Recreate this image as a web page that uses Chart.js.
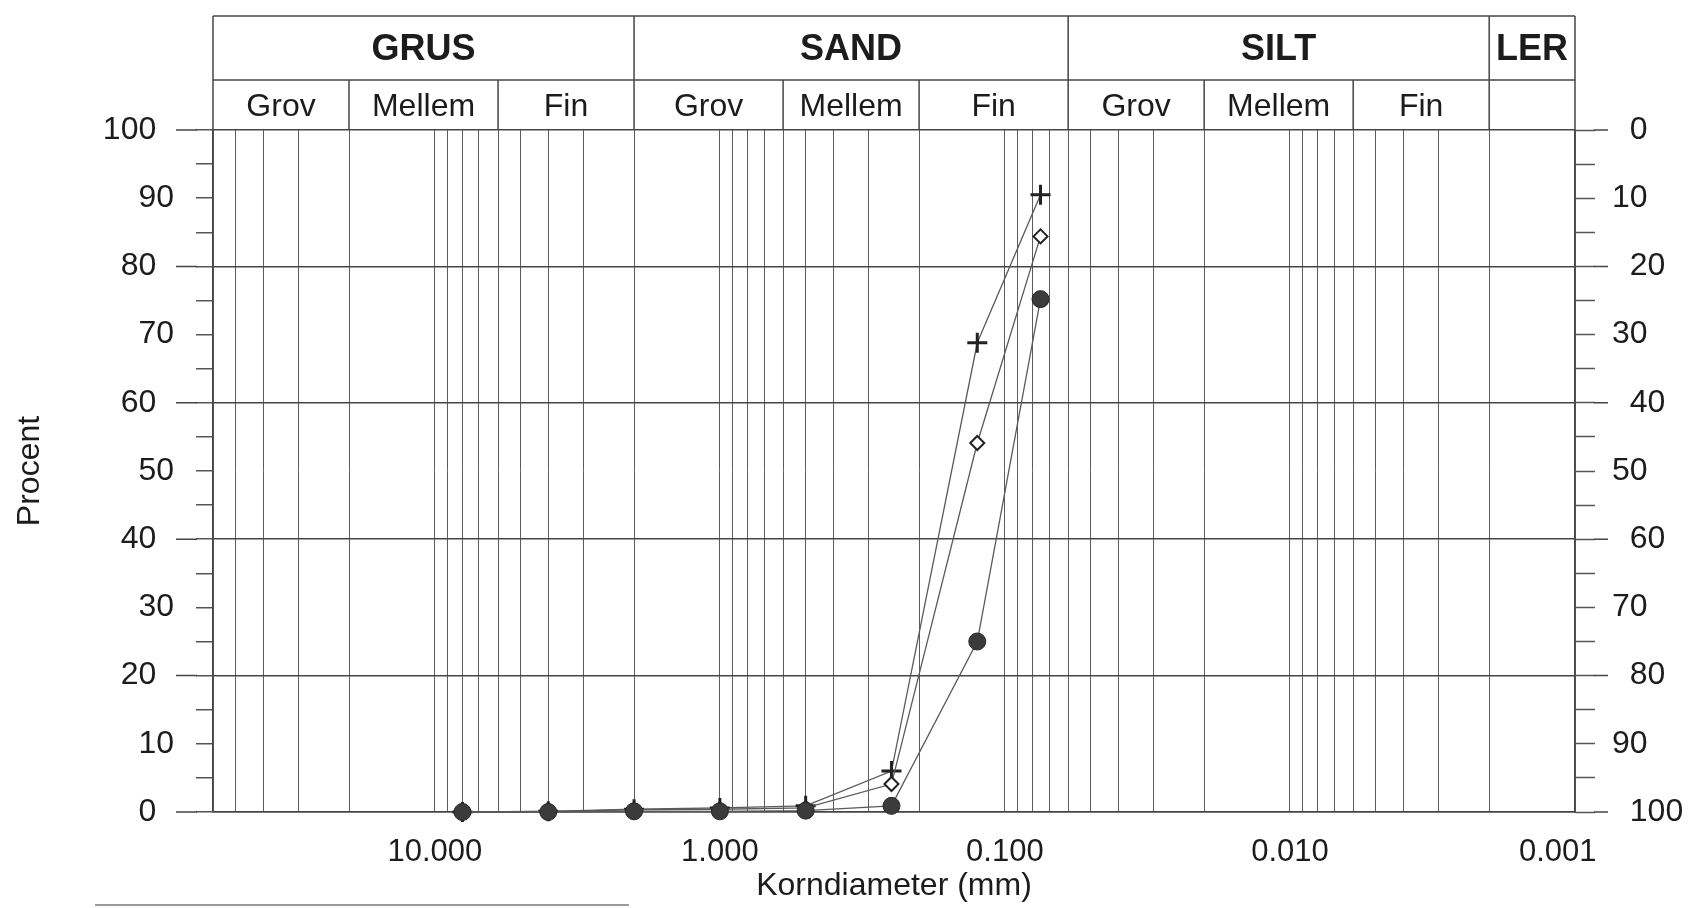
<!DOCTYPE html>
<html lang="da">
<head>
<meta charset="UTF-8">
<title>Kornkurve</title>
<script src="https://cdn.jsdelivr.net/npm/chart.js"></script>
<style>
  html, body { margin: 0; padding: 0; background: #fff; }
  #wrap { width: 1694px; height: 908px; }
</style>
</head>
<body>
<div id="wrap"><canvas id="kornkurve" width="1694" height="908"></canvas></div>
<script>
  // sigtestørrelser (mm) og procent pr. prøve
  const sieveSizes = [8, 4, 2, 1, 0.5, 0.25, 0.125, 0.075];
  const seriesCircle = [0, 0, 0.1, 0.1, 0.2, 0.9, 25.0, 75.2];
  const seriesDiamond = [0, 0.1, 0.3, 0.4, 0.6, 4.1, 54.1, 84.4];
  const seriesCross = [0, 0.1, 0.4, 0.6, 0.9, 6.0, 68.8, 90.5];

  // x-akse 60 mm .. 0.001 mm, log-gitter
  const xMin = 0.001, xMax = 60;
  const xTickValues = [10, 1, 0.1, 0.01, 0.001];
  const xTickLabels = ['10.000', '1.000', '0.100', '0.010', '0.001    '];
  const gridDecades = [10, 1, 0.1, 0.01, 0.001];
  const gridSteps = [9, 8, 7, 6, 5, 4, 3, 2, 1];

  // klassifikation øverst
  const mainClasses = ['GRUS', 'SAND', 'SILT', 'LER'];
  const mainBounds = [60, 2, 0.06, 0.002, 0.001];
  const subClasses = ['Grov', 'Mellem', 'Fin', 'Grov', 'Mellem', 'Fin', 'Grov', 'Mellem', 'Fin', ''];
  const subBounds = [60, 20, 6, 2, 0.6, 0.2, 0.06, 0.02, 0.006, 0.002, 0.001];

  const FONT = 'Arial, "Liberation Sans", sans-serif';
  const INK = '#1c1c1c';
  const LINE = '#464646';

  const gridValues = [];
  gridDecades.forEach(d => gridSteps.forEach(s => {
    const v = d * s;
    if (v <= xMax) gridValues.push(v);
  }));

  const headerPlugin = {
    id: 'header',
    afterDraw(chart) {
      const { ctx, chartArea: a, scales: { x, y } } = chart;
      const top = 16, mid = 80;
      ctx.save();
      ctx.strokeStyle = LINE;
      ctx.lineWidth = 1.5;
      ctx.beginPath();
      ctx.moveTo(a.left, top); ctx.lineTo(a.right, top);
      ctx.moveTo(a.left, mid); ctx.lineTo(a.right, mid);
      mainBounds.forEach(v => {
        const px = x.getPixelForValue(v);
        ctx.moveTo(px, top); ctx.lineTo(px, a.top);
      });
      subBounds.forEach(v => {
        const px = x.getPixelForValue(v);
        ctx.moveTo(px, mid); ctx.lineTo(px, a.top);
      });
      // hovedlinjer forlænges ud over akserne
      [0, 20, 40, 60, 80, 100].forEach(v => {
        const py = y.getPixelForValue(v);
        ctx.moveTo(a.left - 37, py); ctx.lineTo(a.left - 16, py);
        ctx.moveTo(a.right + 19, py); ctx.lineTo(a.right + 33, py);
      });
      ctx.stroke();

      ctx.fillStyle = INK;
      ctx.textAlign = 'center';
      ctx.textBaseline = 'alphabetic';
      ctx.font = 'bold 36px ' + FONT;
      mainClasses.forEach((name, i) => {
        const l = x.getPixelForValue(mainBounds[i]);
        const r = x.getPixelForValue(mainBounds[i + 1]);
        ctx.fillText(name, (l + r) / 2, 60);
      });
      ctx.font = '32px ' + FONT;
      subClasses.forEach((name, i) => {
        const l = x.getPixelForValue(subBounds[i]);
        const r = x.getPixelForValue(subBounds[i + 1]);
        ctx.fillText(name, (l + r) / 2, 116);
      });

      // kant fra signaturboks nederst
      ctx.strokeStyle = '#9a9a9a';
      ctx.lineWidth = 2;
      ctx.beginPath();
      ctx.moveTo(95, 905); ctx.lineTo(629, 905);
      ctx.stroke();
      ctx.restore();
    }
  };

  const toPoints = vals => sieveSizes.map((d, i) => ({ x: d, y: vals[i] }));

  new Chart(document.getElementById('kornkurve'), {
    type: 'line',
    data: {
      datasets: [
        {
          label: 'Prøve 1',
          data: toPoints(seriesCircle),
          borderColor: '#5a5a5a', borderWidth: 1.3,
          pointStyle: 'circle', pointRadius: 8.5,
          pointBackgroundColor: '#3b3b3b', pointBorderColor: '#262626', pointBorderWidth: 1,
          clip: false
        },
        {
          label: 'Prøve 2',
          data: toPoints(seriesDiamond),
          borderColor: '#5a5a5a', borderWidth: 1.3,
          pointStyle: 'rectRot', pointRadius: 7,
          pointBackgroundColor: '#fff', pointBorderColor: '#222', pointBorderWidth: 2,
          clip: false
        },
        {
          label: 'Prøve 3',
          data: toPoints(seriesCross),
          borderColor: '#5a5a5a', borderWidth: 1.3,
          pointStyle: 'cross', pointRadius: 10,
          pointBorderColor: '#222', pointBorderWidth: 3,
          clip: false
        }
      ]
    },
    options: {
      responsive: false,
      animation: false,
      layout: { padding: { top: 130, left: 0, right: 0, bottom: 0 } },
      plugins: { legend: { display: false }, tooltip: { enabled: false } },
      scales: {
        x: {
          type: 'logarithmic', min: xMin, max: xMax, reverse: true,
          afterBuildTicks: s => { s.ticks = gridValues.map(v => ({ value: v })); },
          afterFit: s => { s.height = 96; },
          ticks: {
            autoSkip: false, maxRotation: 0, minRotation: 0, padding: 22,
            color: INK, font: { family: FONT, size: 31 },
            callback: v => {
              const i = xTickValues.indexOf(v);
              return i >= 0 ? xTickLabels[i] : '';
            }
          },
          grid: { color: '#5c5c5c', lineWidth: 1, drawTicks: false },
          border: { color: LINE, width: 1.5 },
          title: {
            display: true, text: 'Korndiameter (mm)', color: INK,
            font: { family: FONT, size: 32 }, padding: { top: 0, bottom: 3 }
          }
        },
        y: {
          position: 'left', min: 0, max: 100,
          afterFit: s => { s.width = 213; },
          ticks: {
            stepSize: 5, autoSkip: false, padding: 22,
            color: INK, font: { family: FONT, size: 32 },
            callback: v => v % 20 === 0 ? v + '  ' : (v % 10 === 0 ? String(v) : '')
          },
          grid: {
            color: c => c.tick && c.tick.value % 20 === 0 ? LINE : 'rgba(0,0,0,0)',
            lineWidth: 1.5, drawTicks: true, tickLength: 17, tickColor: '#555', tickWidth: 1.5
          },
          border: { color: LINE, width: 1.5 },
          title: {
            display: true, text: 'Procent', color: INK,
            font: { family: FONT, size: 32 }, padding: { top: 11, bottom: 0 }
          }
        },
        y2: {
          position: 'right', min: 0, max: 100, reverse: true,
          afterFit: s => { s.width = 119; },
          ticks: {
            stepSize: 5, autoSkip: false, padding: 17,
            color: INK, font: { family: FONT, size: 32 },
            callback: v => v % 20 === 0 ? '  ' + v : (v % 10 === 0 ? String(v) : '')
          },
          grid: { drawOnChartArea: false, drawTicks: true, tickLength: 20, tickColor: '#555', tickWidth: 1.5 },
          border: { color: LINE, width: 1.5 }
        }
      }
    },
    plugins: [headerPlugin]
  });
</script>
</body>
</html>
